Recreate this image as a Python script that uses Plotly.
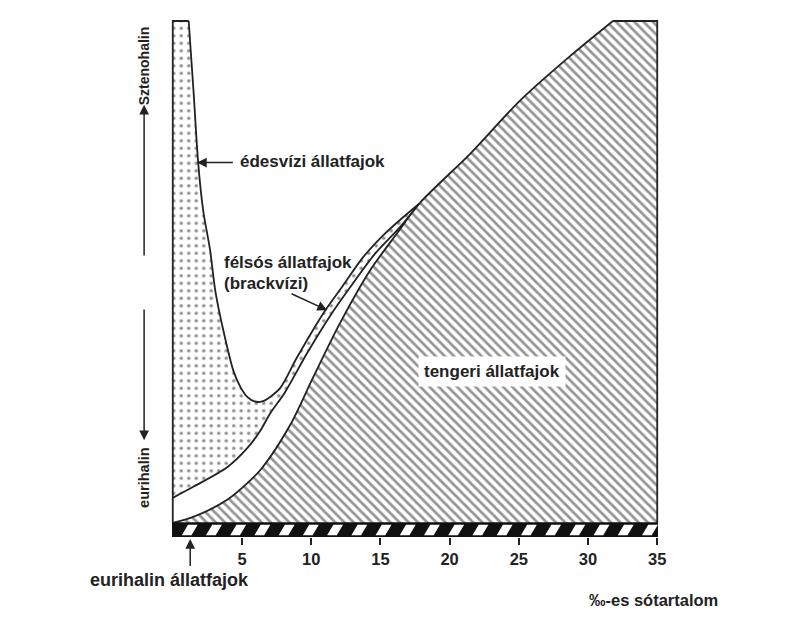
import plotly.graph_objects as go

# ---- data (x: salinity in ‰, y: relative tolerance 0-100) ----
fresh_top_x = [0, 1.15]
fresh_top_y = [100, 100]
fresh_right_x = [1.15, 1.5, 1.84, 2.2, 2.7, 3.07, 3.65, 4.37, 4.9, 5.38, 5.9, 6.46]
fresh_right_y = [100, 86.0, 71.6, 62.2, 54.3, 46.3, 38.4, 30.4, 27.0, 25.1, 24.2, 24.2]
brack_upper_x = [6.46, 7.03, 7.77, 8.98, 10.86, 12.3, 13.74, 15.2, 16.6, 17.8]
brack_upper_y = [24.2, 25.1, 26.9, 33.0, 41.7, 47.3, 52.9, 57.3, 60.8, 63.6]
lower_x = [0, 1.48, 3.93, 5.38, 6.31, 7.03, 8.1, 9.7, 11.4, 12.8, 14.6, 16.4, 17.8]
lower_y = [5.0, 7.2, 11.1, 14.9, 18.3, 21.8, 26.0, 33.8, 41.4, 46.9, 53.6, 58.9, 63.6]
marine_x = [0, 1.48, 3.93, 6.31, 8.48, 10.14, 12.08, 14.25, 16.2, 17.8, 21.5, 25.07, 28.7, 31.8]
marine_y = [0, 1.2, 4.6, 10.5, 19.5, 29.0, 39.8, 50.3, 57.7, 63.6, 73.6, 84.1, 93.0, 100]
marine_top_x = [31.8, 35, 35]
marine_top_y = [100, 100, 0]
tick_vals = [5, 10, 15, 20, 25, 30, 35]
tick_labels = ["5", "10", "15", "20", "25", "30", "35"]

# ---- axis ranges / geometry ----
X_RANGE = [-0.2, 35.2]
BAND_LOW, BAND_HIGH = -2.8, 0.0
Y_RANGE = [BAND_LOW, 100.8]
W, H = 793, 615
M = dict(l=162, r=141, t=9, b=86)
PXX = (W - M["l"] - M["r"]) / (X_RANGE[1] - X_RANGE[0])
PXY = (H - M["t"] - M["b"]) / (Y_RANGE[1] - Y_RANGE[0])

# decorative striped salinity band
STRIPE_PERIOD, STRIPE_START, STRIPE_W, STRIPE_SLANT = 1.75, 0.65, 0.7, 0.45
N_STRIPES = 20

LINE = dict(color="#222222", width=1.8)
FONT = "Liberation Sans, Arial, sans-serif"
TXT = "#222222"

fig = go.Figure()

# marine region (hatched)
mx = marine_x + marine_top_x + [0]
my = marine_y + marine_top_y + [0]
fig.add_trace(go.Scatter(
    x=mx, y=my, mode="lines", fill="toself", fillcolor="white",
    fillpattern=dict(shape="\\", fgcolor="#2a2a2a", bgcolor="white", size=6.5, solidity=0.42),
    line=dict(width=0), hoverinfo="skip"))

# freshwater + brackish region (dotted)
dx = fresh_top_x + fresh_right_x[1:] + brack_upper_x[1:] + lower_x[::-1]
dy = fresh_top_y + fresh_right_y[1:] + brack_upper_y[1:] + lower_y[::-1]
fig.add_trace(go.Scatter(
    x=dx, y=dy, mode="lines", fill="toself", fillcolor="white",
    fillpattern=dict(shape=".", fgcolor="#1e1e1e", bgcolor="white", size=7.5, solidity=0.17),
    line=dict(width=0), hoverinfo="skip"))

# outlines
fig.add_trace(go.Scatter(x=[0, 0] + fresh_top_x[1:], y=[BAND_HIGH, 100] + fresh_top_y[1:],
                         mode="lines", line=LINE, hoverinfo="skip"))
fig.add_trace(go.Scatter(x=fresh_right_x + brack_upper_x[1:], y=fresh_right_y + brack_upper_y[1:],
                         mode="lines", line=dict(**LINE, shape="spline", smoothing=0.8), hoverinfo="skip"))
fig.add_trace(go.Scatter(x=lower_x, y=lower_y, mode="lines",
                         line=dict(**LINE, shape="spline", smoothing=0.8), hoverinfo="skip"))
fig.add_trace(go.Scatter(x=marine_x, y=marine_y, mode="lines",
                         line=dict(**LINE, shape="spline", smoothing=0.8), hoverinfo="skip"))
fig.add_trace(go.Scatter(x=marine_top_x, y=marine_top_y, mode="lines", line=LINE, hoverinfo="skip"))

# band: black box + white slanted stripes
fig.add_trace(go.Scatter(x=[0, 35, 35, 0, 0], y=[BAND_LOW, BAND_LOW, BAND_HIGH, BAND_HIGH, BAND_LOW],
                         mode="lines", fill="toself", fillcolor="#111111",
                         line=dict(color="#111111", width=1.5), hoverinfo="skip"))
sx, sy = [], []
for k in range(N_STRIPES):
    s = STRIPE_START + k * STRIPE_PERIOD
    sx += [s, s + STRIPE_W, s + STRIPE_W + STRIPE_SLANT, s + STRIPE_SLANT, s, None]
    sy += [BAND_LOW + 0.35, BAND_LOW + 0.35, BAND_HIGH - 0.35, BAND_HIGH - 0.35, BAND_LOW + 0.35, None]
fig.add_trace(go.Scatter(x=sx, y=sy, mode="lines", fill="toself", fillcolor="white",
                         line=dict(width=0), hoverinfo="skip"))


def px(x):
    return (x - X_RANGE[0]) / (X_RANGE[1] - X_RANGE[0])


def py(y):
    return (y - Y_RANGE[0]) / (Y_RANGE[1] - Y_RANGE[0])


ann = []


def text(x, y, t, size=17, xanchor="left", angle=0, **kw):
    ann.append(dict(x=px(x), y=py(y), xref="paper", yref="paper", text="<b>" + t + "</b>",
                    showarrow=False, xanchor=xanchor, yanchor="middle", textangle=angle,
                    font=dict(family=FONT, size=size, color=TXT), **kw))


def arrow(x0, y0, x1, y1):
    ann.append(dict(x=px(x1), y=py(y1), xref="paper", yref="paper",
                    ax=(x0 - x1) * PXX, ay=-(y0 - y1) * PXY,
                    text="", showarrow=True, arrowhead=2, arrowsize=1.3, arrowwidth=1.5,
                    arrowcolor="#222222"))


text(-2.07, 91.0, "Sztenohalin", size=14, angle=-90, xanchor="center")
text(-2.07, 9.0, "eurihalin", size=14.5, angle=-90, xanchor="center")
arrow(-2.07, 53.0, -2.07, 83.3)
arrow(-2.07, 42.8, -2.07, 16.5)
text(4.72, 72.0, "édesvízi állatfajok")
arrow(4.45, 71.8, 1.75, 71.8)
text(3.56, 51.8, "félsós állatfajok")
text(3.56, 47.8, "(brackvízi)")
arrow(8.47, 45.8, 11.15, 42.4)
text(23.06, 30.1, "tengeri állatfajok", xanchor="center", bgcolor="white", borderpad=5)
text(-6.1, -11.35, "eurihalin állatfajok", size=18)
arrow(1.26, -8.9, 1.26, -3.2)
text(29.92, -15.3, "‰-es sótartalom", size=16.5)

fig.update_layout(
    width=W, height=H, margin=M,
    paper_bgcolor="white", plot_bgcolor="white",
    showlegend=False, annotations=ann,
    xaxis=dict(range=X_RANGE, showgrid=False, zeroline=False, showline=False,
               ticks="outside", ticklen=7, tickwidth=2, tickcolor="#222",
               tickvals=tick_vals, ticktext=["<b>" + t + "</b>" for t in tick_labels],
               tickfont=dict(family=FONT, size=16.5, color="#222")),
    yaxis=dict(range=Y_RANGE, visible=False),
)

fig.write_html("out.html")
